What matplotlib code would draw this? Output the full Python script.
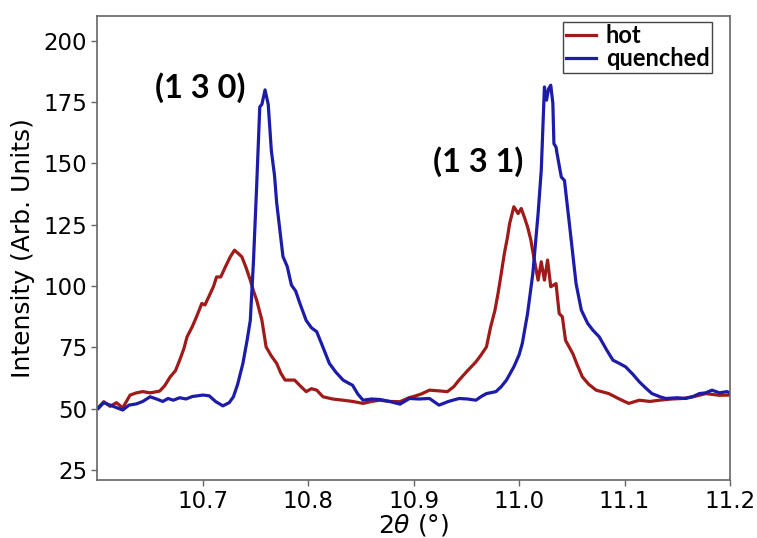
import matplotlib
matplotlib.use("Agg")
import matplotlib.pyplot as plt

# Diffraction profiles around the (1 3 0) and (1 3 1) reflections
two_theta_hot = [
    10.601, 10.606, 10.612, 10.618, 10.624, 10.631, 10.637, 10.643, 10.650, 10.659,
    10.664, 10.669, 10.674, 10.678, 10.682, 10.685, 10.690, 10.694, 10.699, 10.702,
    10.706, 10.710, 10.713, 10.717, 10.721, 10.726, 10.730, 10.733, 10.737, 10.741,
    10.745, 10.748, 10.751, 10.756, 10.760, 10.765, 10.770, 10.774, 10.778, 10.787,
    10.792, 10.798, 10.803, 10.808, 10.814, 10.823, 10.833, 10.842, 10.852, 10.860,
    10.868, 10.877, 10.887, 10.896, 10.899, 10.907, 10.915, 10.924, 10.932, 10.938,
    10.943, 10.951, 10.959, 10.964, 10.969, 10.973, 10.977, 10.980, 10.983, 10.986,
    10.989, 10.991, 10.995, 10.997, 10.999, 11.002, 11.005, 11.008, 11.011, 11.013,
    11.016, 11.018, 11.021, 11.024, 11.027, 11.030, 11.035, 11.038, 11.041, 11.044,
    11.051, 11.055, 11.060, 11.066, 11.073, 11.085, 11.095, 11.104, 11.114, 11.124,
    11.133, 11.145, 11.155, 11.166, 11.177, 11.190, 11.200,
]
intensity_hot = [
    50.6, 52.9, 51.0, 52.5, 50.4, 55.6, 56.5, 57.0, 56.5, 57.2,
    59.5, 63.0, 65.5, 69.8, 74.5, 79.3, 83.5, 87.5, 92.9, 92.3,
    96.0, 99.7, 103.7, 103.7, 107.5, 111.9, 114.6, 113.5, 111.9, 107.5,
    102.4, 98.0, 94.3, 86.1, 75.2, 71.5, 68.5, 64.5, 61.7, 61.7,
    59.5, 57.0, 58.2, 57.6, 54.9, 54.0, 53.5, 53.0, 52.2, 53.0,
    53.5, 53.0, 52.9, 54.6, 54.9, 56.0, 57.6, 57.3, 57.0, 59.0,
    61.7, 65.5, 69.1, 72.0, 75.2, 83.4, 90.0, 97.0, 105.0, 113.3,
    120.0, 125.5, 132.3, 131.0, 129.5, 131.6, 128.0, 124.1, 119.0, 114.0,
    107.0, 102.4, 109.9, 102.4, 110.6, 99.7, 101.0, 88.8, 87.5, 77.9,
    72.4, 68.0, 63.0, 60.0, 57.6, 56.2, 54.0, 52.2, 53.5, 53.0,
    53.5, 54.0, 54.2, 55.0, 56.2, 55.5, 55.6,
]

two_theta_quenched = [
    10.601, 10.606, 10.612, 10.618, 10.624, 10.630, 10.637, 10.643, 10.650, 10.656,
    10.662, 10.667, 10.672, 10.678, 10.684, 10.690, 10.700, 10.706, 10.712, 10.719,
    10.725, 10.729, 10.733, 10.738, 10.742, 10.745, 10.748, 10.751, 10.754, 10.756,
    10.759, 10.762, 10.765, 10.768, 10.770, 10.773, 10.776, 10.780, 10.784, 10.788,
    10.792, 10.798, 10.803, 10.808, 10.814, 10.820, 10.826, 10.833, 10.838, 10.842,
    10.847, 10.852, 10.860, 10.868, 10.877, 10.887, 10.896, 10.905, 10.915, 10.924,
    10.933, 10.943, 10.951, 10.959, 10.964, 10.969, 10.978, 10.983, 10.988, 10.995,
    11.000, 11.003, 11.008, 11.013, 11.018, 11.021, 11.024, 11.026, 11.028, 11.030,
    11.032, 11.033, 11.035, 11.036, 11.040, 11.043, 11.048, 11.054, 11.059, 11.065,
    11.070, 11.076, 11.083, 11.089, 11.095, 11.101, 11.108, 11.114, 11.120, 11.126,
    11.133, 11.139, 11.150, 11.158, 11.165, 11.171, 11.177, 11.183, 11.190, 11.197,
    11.200,
]
intensity_quenched = [
    50.2, 52.5, 51.5, 50.5, 49.5, 51.5, 52.0, 53.0, 54.9, 54.0,
    53.0, 54.2, 53.5, 54.5, 54.0, 55.0, 55.6, 55.3, 53.0, 51.2,
    52.5, 54.9, 60.0, 68.5, 78.0, 86.0, 110.0, 140.4, 173.0, 174.0,
    179.9, 174.0, 155.0, 145.0, 134.0, 123.0, 112.0, 108.0, 100.4, 98.0,
    93.0, 86.0, 83.0, 81.4, 75.0, 68.5, 65.0, 61.7, 60.5, 59.6,
    56.0, 53.5, 54.0, 53.8, 53.0, 51.9, 54.2, 54.0, 54.2, 51.5,
    53.0, 54.2, 54.0, 53.5, 55.0, 56.2, 57.0, 59.0, 61.7, 67.1,
    72.0, 76.6, 88.8, 105.1, 129.5, 147.2, 181.1, 175.7, 180.4, 181.8,
    174.4, 158.0, 156.6, 153.9, 144.4, 143.0, 124.1, 101.0, 90.2, 84.8,
    82.0, 79.3, 74.0, 69.8, 68.5, 67.1, 64.0, 61.0, 58.5, 56.2,
    55.0, 54.2, 54.5, 54.2, 55.0, 56.2, 56.5, 57.6, 56.5, 57.0,
    56.5,
]

series_labels = ["hot", "quenched"]
peak_labels = ["(1 3 0)", "(1 3 1)"]
peak_label_pos = [(10.698, 181.0), (10.961, 150.5)]
x_ticks = [10.7, 10.8, 10.9, 11.0, 11.1, 11.2]
y_ticks = [25, 50, 75, 100, 125, 150, 175, 200]

RED = "#a01a1a"
BLUE = "#1c1ca8"
SPINE = "#666666"

fig = plt.figure(figsize=(7.57, 5.38), dpi=100)
ax = fig.add_axes([0.1287, 0.1078, 0.8356, 0.8625])

ax.plot(two_theta_hot, intensity_hot, color=RED, lw=2.3, label=series_labels[0])
ax.plot(two_theta_quenched, intensity_quenched, color=BLUE, lw=2.3,
        label=series_labels[1])

ax.set_xlim(10.6, 11.2)
ax.set_ylim(21, 210)
ax.set_xticks(x_ticks)
ax.set_xticklabels([f"{v:.1f}" for v in x_ticks])
ax.set_yticks(y_ticks)
ax.tick_params(labelsize=16.5, color=SPINE, length=4, width=1)
for s in ax.spines.values():
    s.set_color(SPINE)
    s.set_linewidth(1.2)

ax.set_xlabel(r"$2\theta$ (°)", fontsize=18, labelpad=-1)
ax.set_ylabel("Intensity (Arb. Units)", fontsize=18, labelpad=6)

for text, (px, py) in zip(peak_labels, peak_label_pos):
    ax.text(px, py, text, ha="center", va="center", fontsize=23.5,
            fontweight="bold", family="Lato")

leg = ax.legend(loc="upper right", bbox_to_anchor=(0.9716, 0.987),
                borderaxespad=0.0, fancybox=False, edgecolor="#444444",
                framealpha=1, handlelength=1.3, handletextpad=0.4,
                borderpad=0.1, labelspacing=0.0,
                prop={"family": "Lato", "weight": "bold", "size": 17})
leg.get_frame().set_linewidth(1.0)

fig.savefig("out.png", dpi=100)
